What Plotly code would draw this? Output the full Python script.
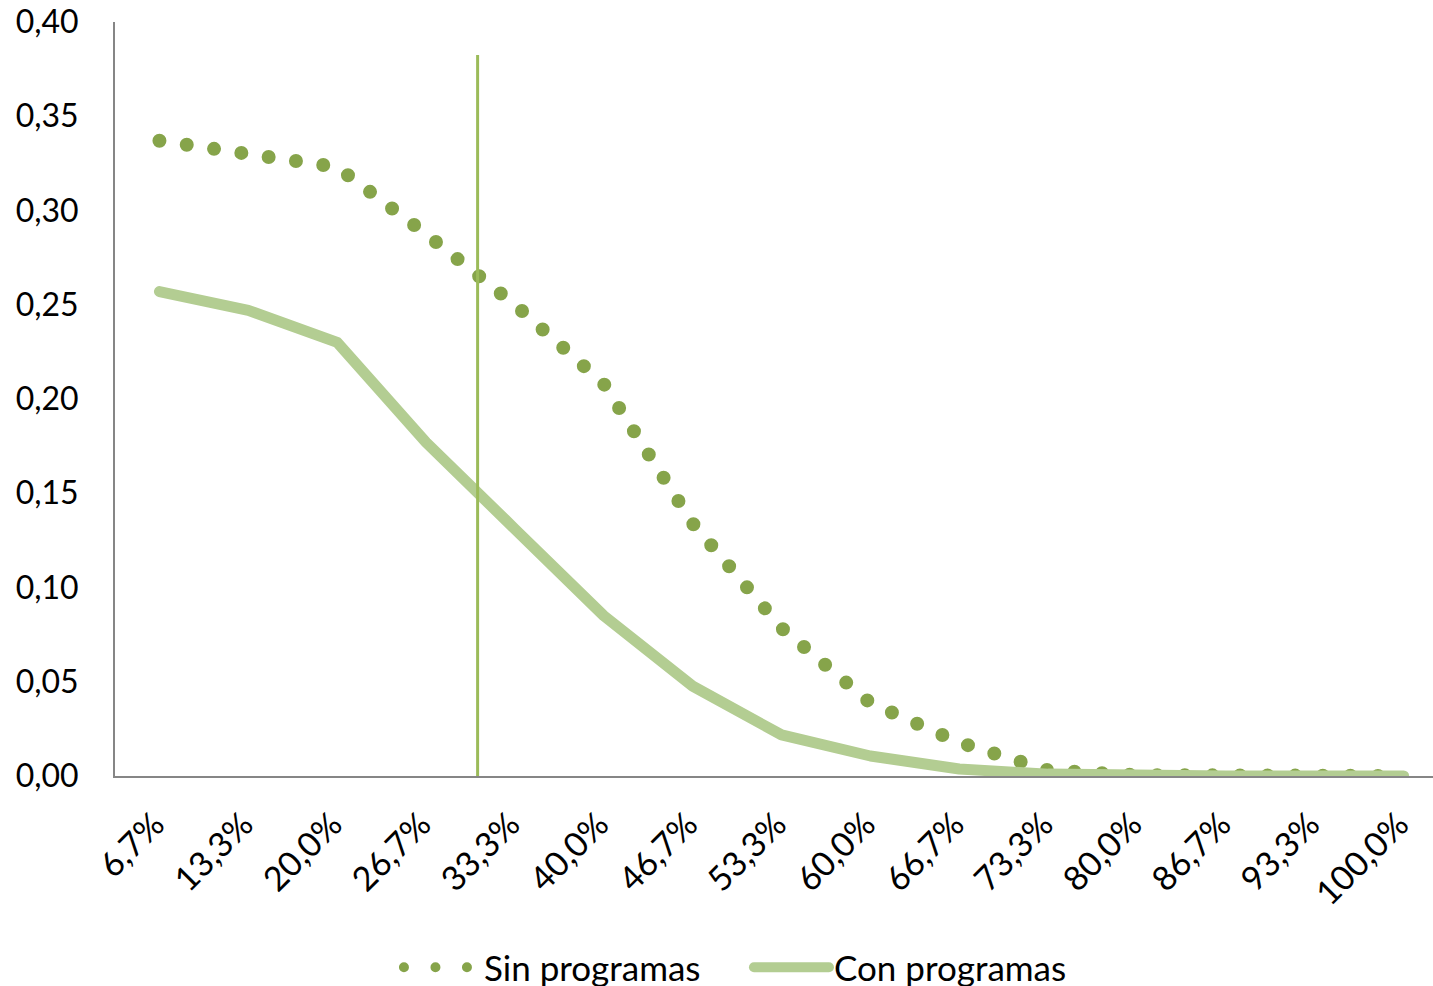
import plotly.graph_objects as go

categories = ["6,7%", "13,3%", "20,0%", "26,7%", "33,3%", "40,0%", "46,7%", "53,3%",
              "60,0%", "66,7%", "73,3%", "80,0%", "86,7%", "93,3%", "100,0%"]
sin_programas = [0.337, 0.330, 0.323, 0.2875, 0.250, 0.208, 0.134, 0.0785,
                 0.0387, 0.0178, 0.003, 0.0005, 0.0, 0.0, 0.0]
con_programas = [0.257, 0.247, 0.230, 0.177, 0.131, 0.085, 0.0477, 0.0218,
                 0.0106, 0.0037, 0.001, 0.0, 0.0, 0.0, 0.0]
# vertical reference marker (position in category units, height in y units)
ref_x = 3.58
ref_top = 0.3825

font_family = "Lato, 'Open Sans', sans-serif"
dot_color = "#86A44A"
line_color = "#B3CD92"

fig = go.Figure()
fig.add_trace(go.Scatter(
    x=categories, y=sin_programas, name="Sin programas", mode="lines",
    line=dict(color=dot_color, width=14, dash="0px,27.6px"), showlegend=False,
    legendgroup="sin",
))
# legend entry for the dotted series (wider dot spacing, as in the legend swatch)
fig.add_trace(go.Scatter(
    x=[None], y=[None], name="Sin programas", mode="lines",
    line=dict(color=dot_color, width=14, dash="0px,31.5px"), legendgroup="sin",
))
fig.add_trace(go.Scatter(
    x=categories, y=con_programas, name="Con programas", mode="lines",
    line=dict(color=line_color, width=11),
))
fig.add_shape(type="line", xref="x", yref="y", x0=ref_x, x1=ref_x, y0=0, y1=ref_top,
              line=dict(color="#9BBB59", width=3))

fig.update_layout(
    width=1433, height=986,
    margin=dict(l=115, r=0, t=22, b=210, autoexpand=False),
    paper_bgcolor="white", plot_bgcolor="white",
    separators=",.",
    font=dict(family=font_family, size=34, color="black"),
    showlegend=True,
    legend=dict(orientation="h", x=0.481, xanchor="center", y=-0.254, yanchor="middle",
                font=dict(size=35), itemwidth=75, entrywidth=260, traceorder="normal"),
    xaxis=dict(type="category", range=[-0.5, 14.33], showgrid=False, zeroline=False,
               showline=True, linecolor="#868686", linewidth=2, tickangle=-45,
               ticks="", ticklabelstandoff=13, ticklabelshift=-5,
               tickfont=dict(size=34), automargin=False, ticklabeloverflow="allow"),
    yaxis=dict(range=[0, 0.40], dtick=0.05, tickformat=".2f", showgrid=False,
               zeroline=False, showline=True, linecolor="#868686", linewidth=2,
               ticks="", ticklabelstandoff=28, tickfont=dict(size=32), automargin=False,
               ticklabeloverflow="allow"),
)

post = """
document.body.style.margin='0';
document.body.style.padding='0';
document.body.style.overflow='hidden';
function fixCaps(){
  document.querySelectorAll('.js-line').forEach(function(p){
    p.style.strokeLinecap='round'; p.style.strokeLinejoin='round';
  });
}
fixCaps();
var gd=document.getElementById('{plot_id}');
if(gd && gd.on){ gd.on('plotly_afterplot', fixCaps); }
"""
fig.write_html("out.html", post_script=post, config={"displayModeBar": False})
